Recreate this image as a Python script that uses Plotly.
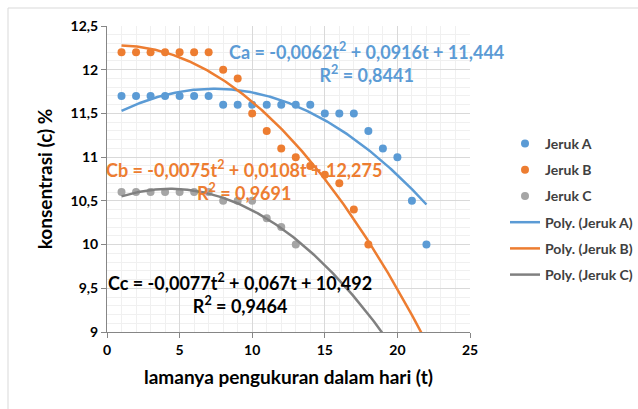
import numpy as np
import plotly.graph_objects as go

# ---- data ----
t_a = list(range(1, 23))
c_a = [11.7, 11.7, 11.7, 11.7, 11.7, 11.7, 11.7, 11.6, 11.6, 11.6, 11.6, 11.6, 11.6, 11.6,
       11.5, 11.5, 11.5, 11.3, 11.1, 11.0, 10.5, 10.0]
t_b = list(range(1, 19))
c_b = [12.2, 12.2, 12.2, 12.2, 12.2, 12.2, 12.2, 12.0, 11.9, 11.5, 11.3, 11.1, 11.0, 10.9,
       10.8, 10.7, 10.4, 10.0]
t_c = list(range(1, 14))
c_c = [10.6, 10.6, 10.6, 10.6, 10.6, 10.6, 10.6, 10.5, 10.5, 10.5, 10.3, 10.2, 10.0]

# trendline coefficients as printed on the chart (a2, a1, a0)
coef_a = [-0.0062, 0.0916, 11.444]
coef_b = [-0.0075, 0.0108, 12.275]
coef_c = [-0.0077, 0.067, 10.492]
trend_range = [1, 22]

eq_a = "Ca = -0,0062t<sup>2</sup> + 0,0916t + 11,444<br>R<sup>2</sup> = 0,8441"
eq_b = "Cb = -0,0075t<sup>2</sup> + 0,0108t + 12,275<br>R<sup>2</sup> = 0,9691"
eq_c = "Cc = -0,0077t<sup>2</sup> + 0,067t + 10,492<br>R<sup>2</sup> = 0,9464"

BLUE, ORANGE, GREY, DGREY = "#5B9BD5", "#ED7D31", "#A5A5A5", "#808080"
FONT = "Lato"

tt = np.linspace(trend_range[0], trend_range[1], 200)

fig = go.Figure()
fig.add_trace(go.Scatter(x=t_a, y=c_a, mode="markers", name="Jeruk A", legendgroup="1",
                         marker=dict(color=BLUE, size=8)))
fig.add_trace(go.Scatter(x=t_b, y=c_b, mode="markers", name="Jeruk B", legendgroup="2",
                         marker=dict(color=ORANGE, size=8)))
fig.add_trace(go.Scatter(x=t_c, y=c_c, mode="markers", name="Jeruk C", legendgroup="3",
                         marker=dict(color=GREY, size=8)))
fig.add_trace(go.Scatter(x=tt, y=np.polyval(coef_a, tt), mode="lines", name="Poly. (Jeruk A)",
                         legendgroup="4", line=dict(color=BLUE, width=2.5)))
fig.add_trace(go.Scatter(x=tt, y=np.polyval(coef_b, tt), mode="lines", name="Poly. (Jeruk B)",
                         legendgroup="5", line=dict(color=ORANGE, width=2.5)))
fig.add_trace(go.Scatter(x=tt, y=np.polyval(coef_c, tt), mode="lines", name="Poly. (Jeruk C)",
                         legendgroup="6", line=dict(color=DGREY, width=2.5)))

L, R, T, B = 107, 168, 26, 77
W, H = 638, 409
pw, ph = W - L - R, H - T - B

def px(x):
    return (x - L) / pw

def py(y):
    return (H - B - y) / ph

ann_font = dict(family=FONT, size=18, weight="bold")
annotations = [
    dict(x=px(366), y=py(62), text=eq_a, font=dict(ann_font, color=BLUE)),
    dict(x=px(244), y=py(180), text=eq_b, font=dict(ann_font, color=ORANGE)),
    dict(x=px(240), y=py(293), text=eq_c, font=dict(ann_font, color="#000000")),
]
for a in annotations:
    a.update(xref="paper", yref="paper", showarrow=False, align="center",
             xanchor="center", yanchor="middle")

fig.update_layout(
    width=W, height=H,
    margin=dict(l=L, r=R, t=T, b=B, autoexpand=False),
    paper_bgcolor="white", plot_bgcolor="white",
    separators=",.",
    font=dict(family=FONT, color="#000000"),
    annotations=annotations,
    showlegend=True,
    legend=dict(x=px(505), y=py(128), xanchor="left", yanchor="top",
                font=dict(family=FONT, size=14, weight="bold", color="#404040"),
                tracegroupgap=5, bgcolor="rgba(0,0,0,0)"),
    shapes=[
        dict(type="line", xref="paper", yref="paper", x0=px(8), x1=px(700), y0=py(8), y1=py(8),
             line=dict(color="#d9d9d9", width=1)),
        dict(type="line", xref="paper", yref="paper", x0=px(8), x1=px(8), y0=py(8), y1=py(420),
             line=dict(color="#d9d9d9", width=1)),
    ],
)

fig.update_xaxes(
    range=[0, 25], dtick=5, tick0=0,
    showline=True, linecolor="#868686", linewidth=1,
    ticks="outside", ticklen=5, tickcolor="#868686",
    showgrid=True, gridcolor="#d9d9d9", gridwidth=1,
    minor=dict(dtick=1, showgrid=True, gridcolor="#f0f0f0", gridwidth=1),
    zeroline=False,
    tickfont=dict(family=FONT, size=14, weight="bold", color="#000000"),
    title=dict(text="lamanya pengukuran dalam hari (t)", standoff=13,
               font=dict(family=FONT, size=19, weight="bold", color="#000000")),
)
fig.update_yaxes(
    range=[9, 12.5], dtick=0.5, tick0=9,
    showline=True, linecolor="#868686", linewidth=1,
    ticks="outside", ticklen=5, tickcolor="#868686",
    showgrid=True, gridcolor="#d9d9d9", gridwidth=1,
    minor=dict(dtick=0.1, showgrid=True, gridcolor="#f0f0f0", gridwidth=1),
    zeroline=False,
    tickfont=dict(family=FONT, size=14, weight="bold", color="#000000"),
    title=dict(text="konsentrasi (c) %", standoff=12,
               font=dict(family=FONT, size=19, weight="bold", color="#000000")),
)

fig.write_html("out.html")
